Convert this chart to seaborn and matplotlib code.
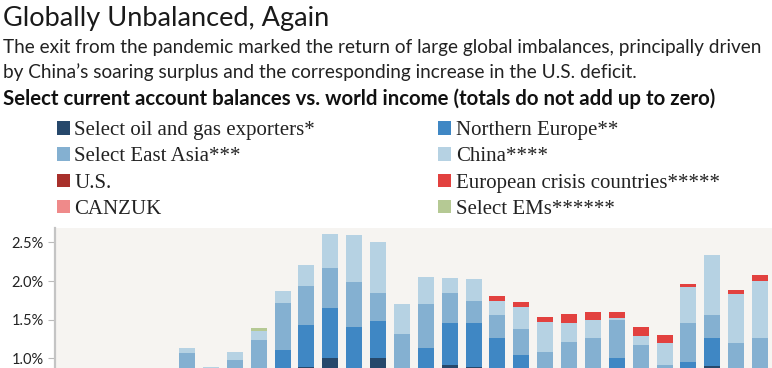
import numpy as np
import pandas as pd
import seaborn as sns
import matplotlib.pyplot as plt
from matplotlib.patches import Patch

# DATA -------------------------------------------------------------------------------------------
years = list(range(1995, 2025))

# positive balances, % of world income (stacked bottom -> top)
oil_gas = [0.05, 0.10, 0.08, 0.00, 0.10, 0.40, 0.30, 0.22, 0.30, 0.55,
           0.893, 1.005, 0.85, 1.009, 0.30, 0.55, 0.915, 0.893, 0.75, 0.55,
           0.10, 0.00, 0.10, 0.30, 0.15, 0.00, 0.30, 0.898, 0.35, 0.25]
northern_europe = [0.15, 0.18, 0.20, 0.18, 0.15, 0.15, 0.15, 0.25, 0.30, 0.555,
                   0.542, 0.642, 0.552, 0.474, 0.45, 0.584, 0.542, 0.564, 0.513, 0.498,
                   0.55, 0.55, 0.55, 0.709, 0.55, 0.45, 0.658, 0.365, 0.50, 0.55]
east_asia = [0.35, 0.30, 0.35, 0.55, 0.50, 0.524, 0.38, 0.513, 0.642, 0.611,
             0.50, 0.517, 0.589, 0.366, 0.561, 0.565, 0.388, 0.285, 0.294, 0.328,
             0.437, 0.662, 0.613, 0.487, 0.473, 0.461, 0.495, 0.302, 0.349, 0.46]
china = [0.05, 0.05, 0.12, 0.10, 0.05, 0.062, 0.063, 0.104, 0.112, 0.151,
         0.272, 0.443, 0.603, 0.659, 0.392, 0.357, 0.19, 0.284, 0.185, 0.292,
         0.383, 0.245, 0.233, 0.026, 0.116, 0.288, 0.474, 0.767, 0.633, 0.744]
euro_crisis = [0.0, 0.0, 0.0, 0.0, 0.0, 0.0, 0.0, 0.0, 0.0, 0.0,
               0.0, 0.0, 0.0, 0.0, 0.0, 0.0, 0.0, 0.0, 0.064, 0.065,
               0.065, 0.121, 0.108, 0.073, 0.113, 0.103, 0.034, 0.0, 0.048, 0.07]
select_ems = [0.0, 0.0, 0.0, 0.0, 0.0, 0.0, 0.0, 0.0, 0.043, 0.0,
              0.0, 0.0, 0.0, 0.0, 0.0, 0.0, 0.0, 0.0, 0.0, 0.0,
              0.0, 0.0, 0.0, 0.0, 0.0, 0.0, 0.0, 0.0, 0.0, 0.0]

# deficits (below zero, outside the visible window)
us = [-0.4, -0.4, -0.45, -0.6, -0.9, -1.2, -1.2, -1.3, -1.4, -1.5,
      -1.6, -1.6, -1.3, -1.1, -0.65, -0.7, -0.65, -0.6, -0.45, -0.45,
      -0.55, -0.55, -0.45, -0.5, -0.5, -0.7, -0.85, -0.9, -0.8, -0.9]
canzuk = [-0.1, -0.1, -0.1, -0.2, -0.2, -0.2, -0.2, -0.2, -0.25, -0.3,
          -0.35, -0.4, -0.4, -0.35, -0.2, -0.3, -0.35, -0.4, -0.45, -0.45,
          -0.45, -0.4, -0.35, -0.35, -0.3, -0.2, -0.2, -0.3, -0.3, -0.3]

# legend order, column by column (left column first)
legend_labels = ['Select oil and gas exporters*', 'Select East Asia***', 'U.S.', 'CANZUK',
                 'Northern Europe**', 'China****', 'European crisis countries*****',
                 'Select EMs******']
colors = {'Select oil and gas exporters*': '#26486b',
          'Northern Europe**': '#3f87c4',
          'Select East Asia***': '#84b0d1',
          'China****': '#b6d2e3',
          'U.S.': '#a8302b',
          'European crisis countries*****': '#e2413f',
          'CANZUK': '#ef8a8a',
          'Select EMs******': '#b5c994'}

# PLOT -------------------------------------------------------------------------------------------
sns.set_theme(style='white')
plt.rcParams['font.family'] = ['Lato', 'DejaVu Sans']

fig = plt.figure(figsize=(7.72, 3.68), dpi=100)
ax = fig.add_axes([0.0712, 0.0, 0.9288, 0.3813])
ax.set_facecolor('#f6f4f1')

pos_series = [('Select oil and gas exporters*', oil_gas),
              ('Northern Europe**', northern_europe),
              ('Select East Asia***', east_asia),
              ('China****', china),
              ('European crisis countries*****', euro_crisis),
              ('Select EMs******', select_ems)]
neg_series = [('U.S.', us), ('CANZUK', canzuk)]

# stacked bars drawn as overlapping cumulative sums, tallest layer first
def draw_stack(series):
    cum = np.cumsum([np.array(v) for _, v in series], axis=0)
    for (name, _), tops in reversed(list(zip(series, cum))):
        df = pd.DataFrame({'year': [str(y) for y in years], 'value': tops})
        sns.barplot(data=df, x='year', y='value', color=colors[name],
                    saturation=1, width=0.67, linewidth=0, ax=ax)

draw_stack(pos_series)
draw_stack(neg_series)

ax.set_xlim(-0.53, 29.5)
ax.set_ylim(0.876, 2.689)
ax.set_yticks([1.0, 1.5, 2.0, 2.5])
ax.set_yticklabels(['1.0%', '1.5%', '2.0%', '2.5%'], fontsize=10.5, color='#222222')
ax.set_xticks([])
ax.set_xlabel('')
ax.set_ylabel('')
ax.tick_params(axis='y', length=5, width=0.8, color='#bbbbbb', pad=3, left=True)
for s in ['top', 'right', 'bottom']:
    ax.spines[s].set_visible(False)
ax.spines['left'].set_color('#c4c4c4')
ax.spines['left'].set_linewidth(1.6)

# titles
fig.text(0.004, 0.93, 'Globally Unbalanced, Again', fontsize=19.5, fontweight='normal',
         color='#1a1a1a', ha='left', va='baseline')
fig.text(0.004, 0.857, 'The exit from the pandemic marked the return of large global imbalances, principally driven',
         fontsize=13.7, color='#222222', ha='left', va='baseline')
fig.text(0.004, 0.789, "by China\u2019s soaring surplus and the corresponding increase in the U.S. deficit.",
         fontsize=13.7, color='#222222', ha='left', va='baseline')
fig.text(0.004, 0.715, 'Select current account balances vs. world income (totals do not add up to zero)',
         fontsize=14.7, fontweight='bold', color='#111111', ha='left', va='baseline')

# legend
handles = [Patch(facecolor=colors[n], edgecolor='none', label=n) for n in legend_labels]
leg = fig.legend(handles=handles, ncol=2, loc='upper left', bbox_to_anchor=(0.049, 0.722),
                 frameon=False, handlelength=0.63, handleheight=0.63, handletextpad=0.22,
                 columnspacing=5.9, labelspacing=0.34,
                 prop={'family': 'Liberation Serif', 'size': 15})
for t in leg.get_texts():
    t.set_color('#222222')

fig.savefig('out.png', dpi=100)
